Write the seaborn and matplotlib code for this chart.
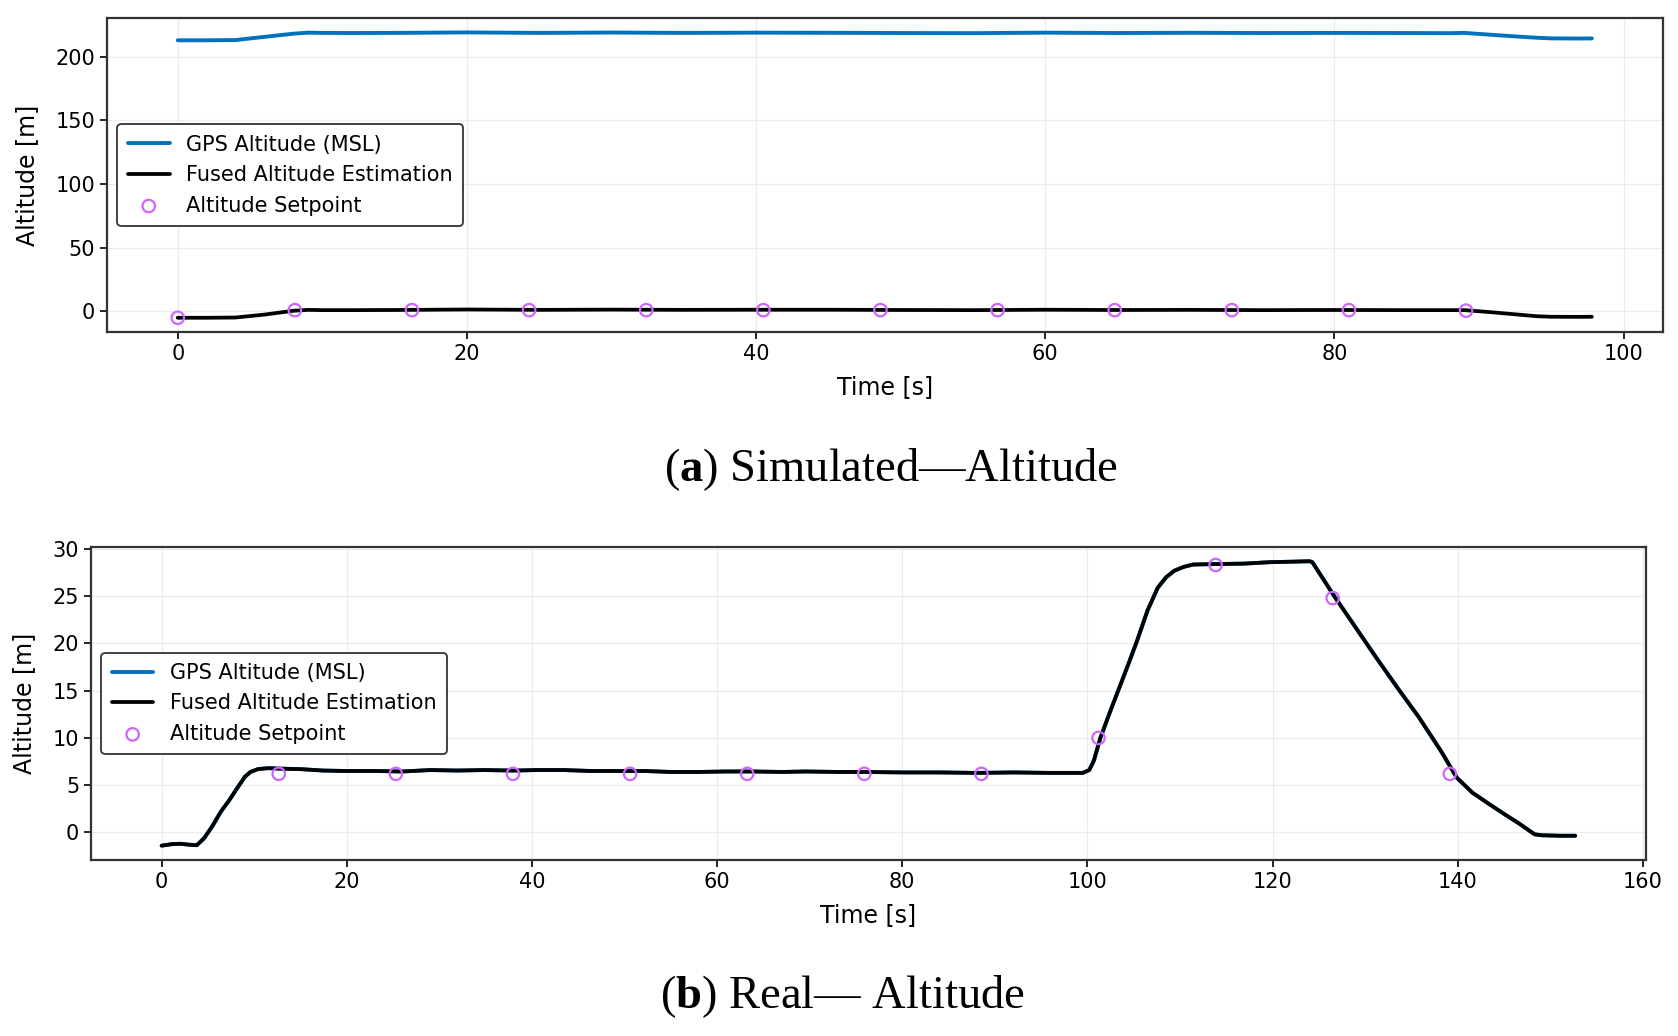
import matplotlib
matplotlib.use("Agg")
import matplotlib.pyplot as plt
import seaborn as sns
import pandas as pd

# ---------------- data ----------------
t_sim = [0, 2, 4, 6, 8, 9, 10, 12, 15, 20, 25, 30, 35, 40, 45, 50, 55, 60, 65,
         70, 75, 80, 85, 88, 89, 91, 93, 94, 95, 97, 97.8]
gps_sim = [212.8, 212.8, 213.0, 215.5, 218.0, 218.8, 218.6, 218.5, 218.6, 219.0,
           218.6, 218.9, 218.6, 218.8, 218.7, 218.5, 218.4, 218.8, 218.5, 218.7,
           218.5, 218.6, 218.5, 218.4, 218.6, 217.0, 215.5, 214.8, 214.3, 214.2, 214.3]
fused_sim = [-5.0, -5.0, -4.8, -2.5, 0.5, 1.2, 1.0, 1.0, 1.1, 1.5, 1.2, 1.4, 1.2,
             1.3, 1.3, 1.1, 1.0, 1.3, 1.1, 1.2, 1.0, 1.1, 1.0, 1.0, 1.0, -0.8,
             -2.8, -3.8, -4.2, -4.3, -4.2]
sp_t_sim = [0, 8.1, 16.2, 24.3, 32.4, 40.5, 48.6, 56.7, 64.8, 72.9, 81.0, 89.1]
sp_sim = [-5.0, 1.0, 1.0, 1.0, 1.0, 1.0, 1.0, 1.0, 1.0, 1.0, 1.0, 0.6]

t_real = [0, 1, 2, 3, 3.8, 4.6, 5.5, 6.4, 7.3, 8.1, 9.0, 9.6, 10.4, 11.5, 12.8,
          15, 17.4, 20, 23.2, 26, 29, 32, 34.8, 38, 40.6, 43.5, 46.4, 49, 52.2,
          55, 58, 61, 63.8, 67, 69.6, 73, 76, 80, 84, 88, 92, 96, 99.5, 100.2,
          100.7, 101.4, 102.5, 103.6, 104.5, 105.3, 106.5, 107.6, 108.5, 109.4,
          110.4, 111.4, 113.9, 117, 119.7, 122, 124.0, 124.3, 126.6, 128.9,
          131.2, 133.5, 135.8, 138.2, 139.9, 141.6, 143.4, 145.1, 146.7, 148.3,
          149.1, 151, 152.7]
fused_real = [-1.4, -1.25, -1.2, -1.3, -1.35, -0.6, 0.7, 2.2, 3.4, 4.6, 5.9, 6.4,
              6.7, 6.8, 6.75, 6.7, 6.55, 6.5, 6.5, 6.45, 6.6, 6.55, 6.6, 6.55,
              6.6, 6.6, 6.5, 6.5, 6.5, 6.4, 6.4, 6.45, 6.45, 6.4, 6.45, 6.4, 6.4,
              6.35, 6.35, 6.3, 6.35, 6.3, 6.3, 6.6, 7.6, 10.0, 12.9, 15.7, 18.0,
              20.1, 23.5, 25.9, 27.0, 27.7, 28.1, 28.35, 28.4, 28.45, 28.6, 28.65,
              28.7, 28.6, 25.1, 21.8, 18.5, 15.3, 12.2, 8.6, 5.8, 4.2, 3.0, 1.9,
              0.9, -0.2, -0.3, -0.35, -0.35]
gps_real = [-1.4, -1.25, -1.2, -1.3, -1.35, -0.6, 0.7, 2.2, 3.4, 4.6, 5.9, 6.4,
            6.7, 6.8, 6.75, 6.7, 6.55, 6.5, 6.5, 6.45, 6.6, 6.55, 6.6, 6.55,
            6.6, 6.6, 6.5, 6.5, 6.5, 6.4, 6.4, 6.45, 6.45, 6.4, 6.45, 6.4, 6.4,
            6.35, 6.35, 6.3, 6.35, 6.3, 6.3, 6.6, 7.6, 10.0, 12.9, 15.7, 18.0,
            20.1, 23.5, 25.9, 27.0, 27.7, 28.1, 28.35, 28.4, 28.45, 28.6, 28.65,
            28.7, 28.6, 25.1, 21.8, 18.5, 15.3, 12.2, 8.6, 5.8, 4.2, 3.0, 1.9,
            0.9, -0.2, -0.3, -0.35, -0.35]
sp_t_real = [12.65, 25.3, 37.95, 50.6, 63.25, 75.9, 88.55, 101.2, 113.85, 126.5, 139.15]
sp_real = [6.2, 6.2, 6.2, 6.2, 6.2, 6.2, 6.2, 10.0, 28.3, 24.8, 6.2]

labels = ["GPS Altitude (MSL)", "Fused Altitude Estimation", "Altitude Setpoint"]
captions = [r"($\mathbf{a}$) Simulated—Altitude", r"($\mathbf{b}$) Real— Altitude"]
xticks_sim = [0, 20, 40, 60, 80, 100]
yticks_sim = [0, 50, 100, 150, 200]
xticks_real = [0, 20, 40, 60, 80, 100, 120, 140, 160]
yticks_real = [0, 5, 10, 15, 20, 25, 30]

# ---------------- style ----------------
sns.set_style("ticks")
plt.rcParams["font.family"] = ["DejaVu Sans"]
plt.rcParams["text.color"] = "black"
plt.rcParams["axes.labelcolor"] = "black"
plt.rcParams["mathtext.fontset"] = "custom"
plt.rcParams["mathtext.rm"] = "Liberation Serif"
plt.rcParams["mathtext.bf"] = "Liberation Serif:bold"

BLUE = "#0072BD"
BLACK = "#000000"
VIOLET = "#CC66FF"
SPINE = "#333333"

fig = plt.figure(figsize=(16.78, 10.36), dpi=100)
ax1 = fig.add_axes([0.0638, 0.6795, 0.927, 0.303])
ax2 = fig.add_axes([0.0542, 0.170, 0.9267, 0.302])


def draw(ax, t, gps, fused, spt, sp, xt, yt):
    d = pd.DataFrame({"t": t, "gps": gps, "fused": fused})
    s = pd.DataFrame({"t": spt, "sp": sp})
    sns.lineplot(data=d, x="t", y="gps", ax=ax, color=BLUE, lw=2.8,
                 label=labels[0], zorder=3)
    sns.lineplot(data=d, x="t", y="fused", ax=ax, color=BLACK, lw=2.7,
                 label=labels[1], zorder=4)
    sns.scatterplot(data=s, x="t", y="sp", ax=ax, marker="o", s=80,
                    facecolors="none", edgecolor=VIOLET, linewidth=1.6,
                    label=labels[2], zorder=5)
    ax.set_xticks(xt)
    ax.set_yticks(yt)
    ax.grid(True, color="#ebebeb", lw=0.8)
    ax.set_axisbelow(True)
    for sp_ in ax.spines.values():
        sp_.set_visible(True)
        sp_.set_color(SPINE)
        sp_.set_linewidth(1.6)
    ax.tick_params(labelsize=15, colors="black", length=5, width=1.2)
    ax.set_xlabel("Time [s]", fontsize=17, labelpad=8)
    ax.set_ylabel("Altitude [m]", fontsize=17, labelpad=12)
    ax.margins(x=0.05, y=0.05)
    leg = ax.legend(loc="center left", fontsize=15, frameon=True, fancybox=True,
                    framealpha=1.0, edgecolor=SPINE, borderpad=0.5,
                    bbox_to_anchor=(0.0, 0.5))
    leg.get_frame().set_linewidth(1.3)
    for txt in leg.get_texts():
        txt.set_color("black")


draw(ax1, t_sim, gps_sim, fused_sim, sp_t_sim, sp_sim, xticks_sim, yticks_sim)
draw(ax2, t_real, gps_real, fused_real, sp_t_real, sp_real, xticks_real, yticks_real)

fig.text(0.531, 0.547, captions[0], ha="center", va="center", fontsize=33.5,
         family="Liberation Serif", color="black")
fig.text(0.502, 0.038, captions[1], ha="center", va="center", fontsize=33.5,
         family="Liberation Serif", color="black")

fig.savefig("out.png", dpi=100)
